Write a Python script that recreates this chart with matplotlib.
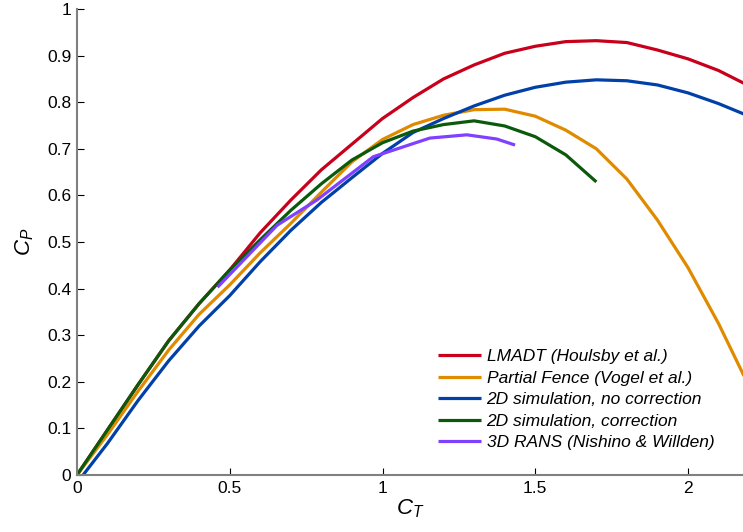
import numpy as np
import matplotlib
matplotlib.use("Agg")
import matplotlib.pyplot as plt

plt.rcParams['font.family'] = ['Liberation Sans', 'DejaVu Sans']
plt.rcParams['mathtext.fontset'] = 'custom'
plt.rcParams['mathtext.it'] = 'Liberation Sans:italic'
plt.rcParams['mathtext.rm'] = 'Liberation Sans'

# LMADT (Houlsby et al.)
ct_lmadt = [0, 0.1, 0.2, 0.3, 0.4, 0.5, 0.6, 0.7, 0.8, 0.9, 1.0, 1.1, 1.2,
            1.3, 1.4, 1.5, 1.6, 1.7, 1.8, 1.9, 2.0, 2.1, 2.2]
cp_lmadt = [0, 0.097, 0.194, 0.288, 0.368, 0.44, 0.52, 0.59, 0.655, 0.71,
            0.765, 0.81, 0.85, 0.88, 0.905, 0.92, 0.93, 0.932, 0.928, 0.912,
            0.893, 0.868, 0.835]

# Partial Fence (Vogel et al.)
ct_fence = [0, 0.1, 0.2, 0.3, 0.4, 0.5, 0.6, 0.7, 0.8, 0.9, 1.0, 1.1, 1.2,
            1.3, 1.4, 1.5, 1.6, 1.7, 1.8, 1.9, 2.0, 2.1, 2.2]
cp_fence = [0, 0.087, 0.18, 0.268, 0.345, 0.408, 0.477, 0.54, 0.607, 0.672,
            0.72, 0.752, 0.772, 0.784, 0.785, 0.77, 0.74, 0.70, 0.635, 0.547,
            0.445, 0.325, 0.19]

# 2D simulation, no correction
ct_nocorr = [0.02, 0.1, 0.2, 0.3, 0.4, 0.5, 0.6, 0.7, 0.8, 0.9, 1.0, 1.1,
             1.2, 1.3, 1.4, 1.5, 1.6, 1.7, 1.8, 1.9, 2.0, 2.1, 2.2]
cp_nocorr = [0, 0.068, 0.16, 0.245, 0.32, 0.385, 0.458, 0.525, 0.585, 0.638,
             0.69, 0.735, 0.765, 0.792, 0.815, 0.832, 0.843, 0.848, 0.846,
             0.837, 0.82, 0.797, 0.77]

# 2D simulation, correction
ct_corr = [0, 0.1, 0.2, 0.3, 0.4, 0.5, 0.6, 0.7, 0.8, 0.9, 1.0, 1.1, 1.2,
           1.3, 1.4, 1.5, 1.6, 1.7]
cp_corr = [0, 0.097, 0.194, 0.288, 0.368, 0.44, 0.505, 0.568, 0.625, 0.676,
           0.713, 0.738, 0.752, 0.760, 0.749, 0.726, 0.687, 0.629]

# 3D RANS (Nishino & Willden)
ct_rans = [0.46, 0.655, 0.785, 0.97, 1.155, 1.276, 1.374, 1.434]
cp_rans = [0.403, 0.536, 0.59, 0.683, 0.723, 0.730, 0.721, 0.708]

labels = ['LMADT (Houlsby et al.)', 'Partial Fence (Vogel et al.)',
          '2D simulation, no correction', '2D simulation, correction',
          '3D RANS (Nishino & Willden)']
colors = ['#C8001C', '#E08A00', '#0040A8', '#0B5A0B', '#8040FF']

fig = plt.figure(figsize=(7.43, 5.32), dpi=100)
ax = fig.add_axes([77 / 743, 57 / 532, 666 / 743, 466 / 532])

series = [(ct_lmadt, cp_lmadt), (ct_fence, cp_fence), (ct_nocorr, cp_nocorr),
          (ct_corr, cp_corr), (ct_rans, cp_rans)]
for (x, y), lab, c in zip(series, labels, colors):
    ax.plot(x, y, color=c, lw=2.3, label=lab, solid_capstyle='butt')

ax.set_xlim(0, 666 / 305.5)
ax.set_ylim(0, 1)
ax.set_xticks([0, 0.5, 1, 1.5, 2])
ax.set_xticklabels(['0', '0.5', '1', '1.5', '2'])
ax.set_yticks(np.arange(0, 1.01, 0.1))
ax.set_yticklabels(['0', '0.1', '0.2', '0.3', '0.4', '0.5', '0.6', '0.7',
                    '0.8', '0.9', '1'])
ax.tick_params(direction='in', length=5, width=0.8, labelsize=12.5, pad=4,
               colors='black')
for s in ['top', 'right']:
    ax.spines[s].set_visible(False)
for s in ['left', 'bottom']:
    ax.spines[s].set_color('#808080')
    ax.spines[s].set_linewidth(1.5)

ax.set_xlabel(r'$C_T$', fontsize=16, labelpad=1)
ax.set_ylabel(r'$C_P$', fontsize=16, labelpad=8)

leg = ax.legend(loc='lower left', bbox_to_anchor=(0.529, 0.035), frameon=False,
                prop={'style': 'italic', 'size': 12.5}, handlelength=2.5,
                handletextpad=0.3, labelspacing=0.36, borderpad=0)

fig.savefig('out.png', dpi=100)
